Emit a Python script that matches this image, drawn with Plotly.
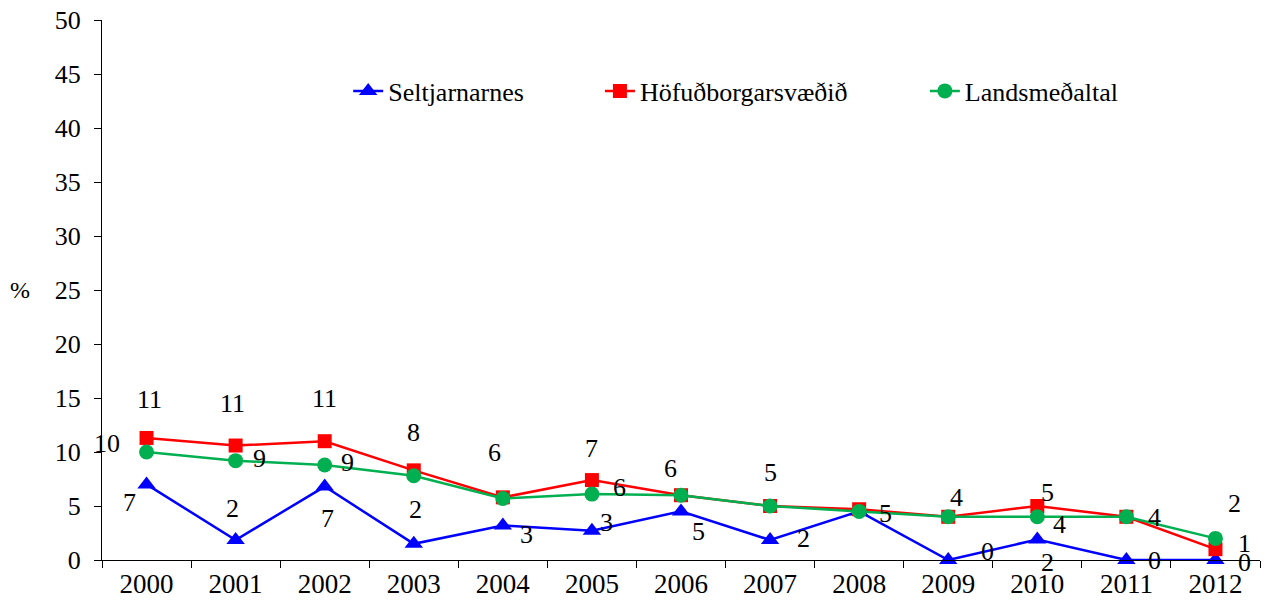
import plotly.graph_objects as go

years = ["2000", "2001", "2002", "2003", "2004", "2005", "2006",
         "2007", "2008", "2009", "2010", "2011", "2012"]

# values (%)
seltjarnarnes = [7.0, 1.85, 6.8, 1.5, 3.2, 2.7, 4.5, 1.85, 4.5, 0.0, 1.9, 0.0, 0.0]
hofudborg = [11.3, 10.6, 11.0, 8.3, 5.8, 7.4, 6.0, 5.0, 4.7, 4.0, 5.0, 4.0, 1.0]
landsmedaltal = [10.0, 9.2, 8.8, 7.8, 5.7, 6.1, 6.0, 5.0, 4.5, 4.0, 4.0, 4.0, 2.0]

# data labels as they show on the chart ("" = hidden by overlap)
lab_selt = ["7", "2", "7", "2", "3", "3", "5", "2", "", "0", "2", "0", "0"]
lab_hofud = ["11", "11", "11", "8", "6", "7", "6", "5", "5", "4", "5", "4", "1"]
lab_lands = ["10", "9", "9", "", "", "6", "", "", "", "", "4", "", "2"]

# label offsets in pixels (dx, dy with dy down)
off_selt = [(-17, 18), (-3, -32), (3, 32), (2, -34), (24, 9), (15, -8), (17, 20),
            (33, -2), (0, 0), (39, -9), (10, 23), (28, 0), (29, 2)]
off_hofud = [(3, -38), (-3, -42), (0, -43), (0, -38), (-8, -45), (0, -32), (-11, -27),
             (0, -34), (26, 4), (8, -19), (10, -14), (28, 1), (29, -6)]
off_lands = [(-40, -9), (24, -2), (23, -2), (0, 0), (0, 0), (28, -7), (0, 0),
             (0, 0), (0, 0), (0, 0), (22, 8), (0, 0), (19, -35)]

FONT = "Liberation Serif, Times New Roman, serif"

fig = go.Figure()

series = [
    ("Seltjarnarnes", seltjarnarnes, "#0000FF", "triangle-up", 16, "legend", 0.2126),
    ("Höfuðborgarsvæðið", hofudborg, "#FF0000", "square", 14, "legend2", 0.430),
    ("Landsmeðaltal", landsmedaltal, "#00B050", "circle", 15, "legend3", 0.7106),
]
for name, vals, color, sym, size, leg, _ in series:
    fig.add_trace(go.Scatter(
        x=years, y=vals, name=name, mode="lines+markers",
        line=dict(color=color, width=2.5),
        marker=dict(symbol=sym, size=size, color=color),
        cliponaxis=False, legend=leg,
    ))

annotations = []
for vals, labs, offs in [(seltjarnarnes, lab_selt, off_selt),
                         (hofudborg, lab_hofud, off_hofud),
                         (landsmedaltal, lab_lands, off_lands)]:
    for i, (v, t, (dx, dy)) in enumerate(zip(vals, labs, offs)):
        if not t:
            continue
        annotations.append(dict(
            x=i, y=v, xref="x", yref="y", text=t, showarrow=False,
            xshift=dx, yshift=-dy, font=dict(size=26, color="black", family=FONT),
        ))

annotations.append(dict(
    x=-0.0708, y=0.5, xref="paper", yref="paper", text="%", showarrow=False,
    xanchor="center", yanchor="middle",
    font=dict(size=24, color="black", family=FONT),
))

legends = {}
for name, vals, color, sym, size, leg, lx in series:
    legends[leg] = dict(orientation="h", x=lx, y=0.8685, xanchor="left", yanchor="middle",
                        font=dict(size=26, family=FONT), bgcolor="rgba(0,0,0,0)")

# page has an 8px body margin, so the figure is a bit smaller than the window
fig.update_layout(
    width=1267, height=596,
    margin=dict(l=94, r=15, t=12, b=44),
    paper_bgcolor="white", plot_bgcolor="white",
    font=dict(family=FONT, size=26, color="black"),
    showlegend=True,
    annotations=annotations,
    **legends,
)
fig.update_xaxes(
    type="category", range=[-0.5, 12.5], showgrid=False, zeroline=False,
    showline=True, linecolor="black", linewidth=1, automargin=False,
    ticks="outside", tickson="boundaries", ticklen=7, tickcolor="black",
    tickfont=dict(size=27, family=FONT),
)
fig.update_yaxes(
    range=[0, 50], dtick=5, showgrid=False, zeroline=False,
    showline=True, linecolor="black", linewidth=1, automargin=False,
    ticks="outside", ticklen=7, tickcolor="black", ticklabeloverflow="allow",
    tickfont=dict(size=26, family=FONT), ticklabelstandoff=8,
)

fig.write_html("out.html")
